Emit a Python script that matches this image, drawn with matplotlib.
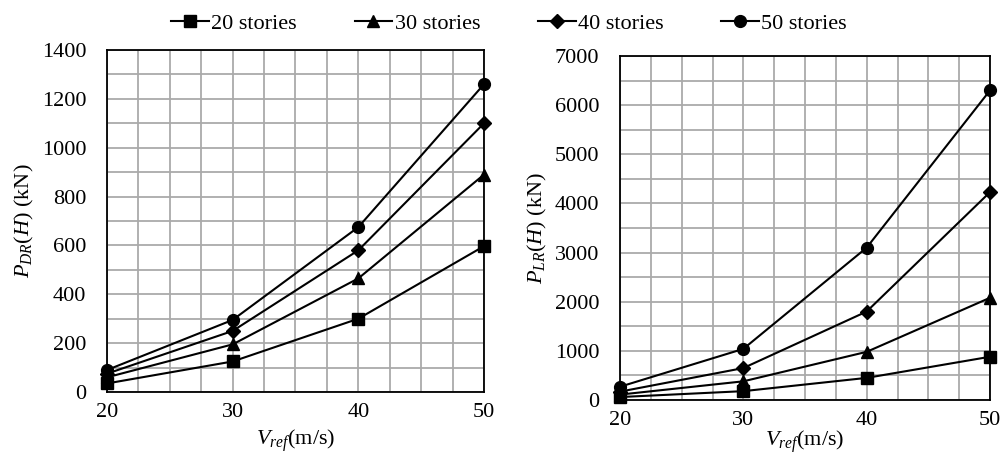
import numpy as np
import matplotlib
matplotlib.use('Agg')
import matplotlib.pyplot as plt
from matplotlib.ticker import MultipleLocator

plt.rcParams['font.family'] = ['Liberation Serif', 'DejaVu Serif']
plt.rcParams['mathtext.fontset'] = 'custom'
plt.rcParams['mathtext.rm'] = 'Liberation Serif'
plt.rcParams['mathtext.it'] = 'Liberation Serif:italic'

# wind speed (m/s)
vref = [20, 30, 40, 50]
series_names = ['20 stories', '30 stories', '40 stories', '50 stories']
markers = ['s', '^', 'D', 'o']

# drag force P_DR(H) (kN)
drag_20 = [35, 125, 300, 597]
drag_30 = [60, 195, 465, 890]
drag_40 = [75, 250, 580, 1100]
drag_50 = [90, 295, 675, 1260]

# lift force P_LR(H) (kN)
lift_20 = [60, 180, 450, 880]
lift_30 = [110, 380, 980, 2080]
lift_40 = [170, 650, 1800, 4230]
lift_50 = [270, 1040, 3100, 6300]

dragL = [drag_20, drag_30, drag_40, drag_50]
liftL = [lift_20, lift_30, lift_40, lift_50]

fig = plt.figure(figsize=(10.04, 4.61), dpi=100)
ax1 = fig.add_axes([107/1004, 1-392/461, (484-107)/1004, (392-50)/461])
ax2 = fig.add_axes([620/1004, 1-400/461, (990-620)/1004, (400-56)/461])

def style_axis(ax, ymax, ymajor, yminor):
    ax.set_xlim(20, 50)
    ax.set_ylim(0, ymax)
    ax.xaxis.set_major_locator(MultipleLocator(10))
    ax.xaxis.set_minor_locator(MultipleLocator(2.5))
    ax.yaxis.set_major_locator(MultipleLocator(ymajor))
    ax.yaxis.set_minor_locator(MultipleLocator(yminor))
    ax.grid(which='both', color='#aaaaaa', linewidth=1.3)
    ax.set_axisbelow(True)
    ax.tick_params(which='both', length=0, labelsize=16)
    ax.tick_params(axis='x', pad=8)
    ax.tick_params(axis='y', pad=15)
    for s in ax.spines.values():
        s.set_color('black')
        s.set_linewidth(1.3)

lines = []
for i in range(4):
    ms = 8.5 if markers[i] != 'D' else 7
    l, = ax1.plot(vref, dragL[i], color='black', marker=markers[i], markersize=ms,
                  linewidth=1.5, clip_on=False, zorder=3)
    ax2.plot(vref, liftL[i], color='black', marker=markers[i], markersize=ms,
             linewidth=1.5, clip_on=False, zorder=3)
    lines.append(l)

style_axis(ax1, 1400, 200, 100)
style_axis(ax2, 7000, 1000, 500)

ax1.set_ylabel(r'$P_{DR}(H)$ (kN)', fontsize=16, labelpad=4)
ax2.set_ylabel(r'$P_{LR}(H)$ (kN)', fontsize=16, labelpad=4)
ax1.set_xlabel(r'$V_{ref}$(m/s)', fontsize=16, labelpad=4)
ax2.set_xlabel(r'$V_{ref}$(m/s)', fontsize=16, labelpad=-1)

fig.legend(lines, series_names, loc='upper center', bbox_to_anchor=(0.507, 1.015),
           ncol=4, frameon=False, fontsize=16, handlelength=1.7,
           handletextpad=0.1, columnspacing=2.6)

fig.savefig('out.png', dpi=100)
